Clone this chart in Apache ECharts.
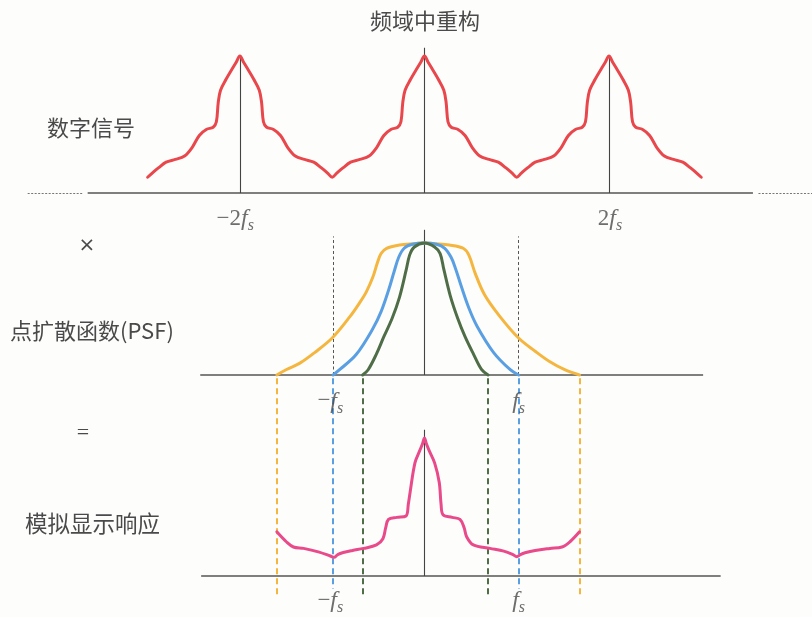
<!DOCTYPE html>
<html>
<head>
<meta charset="utf-8">
<script src="https://cdn.jsdelivr.net/npm/echarts@6/dist/echarts.min.js"></script>
<style>
  html, body { margin: 0; padding: 0; background: #fdfdfc; }
  #chart { width: 812px; height: 617px; }
</style>
</head>
<body>
<div id="chart"></div>
<script>
// Frequency axis in units of fs; amplitudes normalised to the peak height.

// Sampled (digital) signal spectrum: replicas centred on -2fs, 0, 2fs
const digitalSignal = [
  [-3.00,0.115],[-2.95,0.145],[-2.88,0.185],[-2.80,0.225],[-2.70,0.245],[-2.60,0.27],[-2.52,0.33],[-2.44,0.42],[-2.36,0.465],[-2.29,0.48],[-2.255,0.52],[-2.235,0.66],[-2.21,0.75],[-2.15,0.83],[-2.08,0.91],[-2.04,0.955],[-2.00,1.00],
  [-1.96,0.955],[-1.92,0.91],[-1.85,0.83],[-1.79,0.75],[-1.765,0.66],[-1.745,0.52],[-1.71,0.48],[-1.64,0.465],[-1.56,0.42],[-1.48,0.33],[-1.40,0.27],[-1.30,0.245],[-1.20,0.225],[-1.12,0.185],[-1.05,0.145],
  [-1.00,0.115],[-0.95,0.145],[-0.88,0.185],[-0.80,0.225],[-0.70,0.245],[-0.60,0.27],[-0.52,0.33],[-0.44,0.42],[-0.36,0.465],[-0.29,0.48],[-0.255,0.52],[-0.235,0.66],[-0.21,0.75],[-0.15,0.83],[-0.08,0.91],[-0.04,0.955],[0.00,1.00],
  [0.04,0.955],[0.08,0.91],[0.15,0.83],[0.21,0.75],[0.235,0.66],[0.255,0.52],[0.29,0.48],[0.36,0.465],[0.44,0.42],[0.52,0.33],[0.60,0.27],[0.70,0.245],[0.80,0.225],[0.88,0.185],[0.95,0.145],
  [1.00,0.115],[1.05,0.145],[1.12,0.185],[1.20,0.225],[1.30,0.245],[1.40,0.27],[1.48,0.33],[1.56,0.42],[1.64,0.465],[1.71,0.48],[1.745,0.52],[1.765,0.66],[1.79,0.75],[1.85,0.83],[1.92,0.91],[1.96,0.955],[2.00,1.00],
  [2.04,0.955],[2.08,0.91],[2.15,0.83],[2.21,0.75],[2.235,0.66],[2.255,0.52],[2.29,0.48],[2.36,0.465],[2.44,0.42],[2.52,0.33],[2.60,0.27],[2.70,0.245],[2.80,0.225],[2.88,0.185],[2.95,0.145],[3.00,0.115]
];

// Point spread functions (frequency response), wide / medium / narrow
const psfWide = [
  [-1.60,0],[-1.50,0.04],[-1.35,0.09],[-1.19,0.17],[-1.00,0.28],[-0.81,0.44],[-0.70,0.55],[-0.63,0.63],[-0.56,0.74],[-0.51,0.85],[-0.47,0.92],[-0.41,0.96],[-0.27,0.985],[-0.12,0.995],[0,1],
  [0.12,0.995],[0.27,0.985],[0.42,0.96],[0.48,0.91],[0.55,0.77],[0.65,0.61],[0.81,0.45],[1.02,0.28],[1.20,0.18],[1.36,0.10],[1.52,0.04],[1.68,0]
];
const psfMedium = [
  [-0.99,0],[-0.92,0.04],[-0.74,0.155],[-0.56,0.35],[-0.47,0.48],[-0.39,0.64],[-0.33,0.78],[-0.28,0.89],[-0.22,0.96],[-0.13,0.99],[0,1],
  [0.13,0.99],[0.22,0.96],[0.29,0.89],[0.34,0.80],[0.40,0.67],[0.48,0.51],[0.57,0.37],[0.75,0.17],[0.93,0.04],[1.02,0]
];
const psfNarrow = [
  [-0.67,0],[-0.61,0.04],[-0.52,0.16],[-0.44,0.29],[-0.35,0.43],[-0.27,0.59],[-0.20,0.79],[-0.16,0.91],[-0.11,0.97],[0,1],
  [0.11,0.97],[0.17,0.92],[0.21,0.80],[0.28,0.60],[0.36,0.43],[0.44,0.29],[0.53,0.16],[0.62,0.04],[0.69,0]
];

// Analogue display response
const displayResponse = [
  [-1.60,0.32],[-1.50,0.25],[-1.42,0.21],[-1.31,0.20],[-1.15,0.175],[-1.02,0.145],[-0.98,0.135],[-0.94,0.155],[-0.88,0.17],[-0.78,0.185],[-0.66,0.20],[-0.52,0.225],[-0.45,0.27],[-0.42,0.35],[-0.39,0.41],[-0.30,0.425],[-0.20,0.435],[-0.175,0.52],[-0.157,0.60],[-0.103,0.82],[-0.05,0.91],[-0.02,0.96],[0,1.0],
  [0.02,0.96],[0.05,0.91],[0.11,0.82],[0.16,0.68],[0.18,0.52],[0.20,0.445],[0.30,0.425],[0.385,0.41],[0.43,0.35],[0.457,0.285],[0.53,0.225],[0.71,0.20],[0.86,0.18],[0.96,0.155],[1.00,0.14],[1.04,0.155],[1.09,0.168],[1.20,0.185],[1.36,0.20],[1.49,0.21],[1.58,0.25],[1.68,0.32]
];

// Cut-off frequencies of each PSF
const cutWide = [-1.60, 1.68];
const cutMedium = [-0.99, 1.02];
const cutNarrow = [-0.67, 0.69];

// Sampling frequency markers
const sampleMarks = [-0.99, 1.02];

// Tick labels
const topTicks = [[-2.05, '−2'], [2.01, '2']];
const fsTicks = [[-1.02, '−'], [1.02, '']];

// Horizontal axis extents
const topAxisSpan = [-3.65, 3.56];
const topAxisDotted = [[-4.30, -3.70], [3.62, 4.20]];
const midAxisSpan = [-2.43, 3.02];
const bottomAxisSpan = [-2.42, 3.21];

// ---- layout ----
const X_MIN = -4.6, X_MAX = 4.2;
function panel(baseline, unit, ymin, ymax) {
  return { left: 0, right: 0, top: baseline - unit * ymax, height: unit * (ymax - ymin) };
}
const panels = [
  { grid: panel(193, 137, -0.3, 1.2), ymin: -0.3, ymax: 1.2 },
  { grid: panel(375, 132, -1.75, 1.1), ymin: -1.75, ymax: 1.1 },
  { grid: panel(576, 138, -0.25, 1.1), ymin: -0.25, ymax: 1.1 }
];

const AXIS = '#555';
const SERIF = '"Liberation Serif", "DejaVu Serif", serif';
const CJK = '"Noto Sans CJK SC", "Noto Sans", sans-serif';
const TXT = '#4a4a4a';

function seg(x1, y1, x2, y2) { return { coords: [[x1, y1], [x2, y2]] }; }
function segments(idx, data, style) {
  return {
    type: 'lines', coordinateSystem: 'cartesian2d', xAxisIndex: idx, yAxisIndex: idx,
    polyline: false, silent: true, z: 2,
    lineStyle: Object.assign({ opacity: 1 }, style), data
  };
}
function curve(idx, data, color, width) {
  return {
    type: 'line', xAxisIndex: idx, yAxisIndex: idx, data, showSymbol: false, symbol: 'none',
    smooth: 0.35, silent: true, z: 5,
    lineStyle: { color, width, cap: 'round', join: 'round' }
  };
}
const fsRich = {
  a: { fontFamily: SERIF, fontSize: 23, color: TXT, lineHeight: 30 },
  f: { fontFamily: SERIF, fontStyle: 'italic', fontSize: 24, color: TXT, lineHeight: 30 },
  s: { fontFamily: SERIF, fontStyle: 'italic', fontSize: 16, color: TXT, lineHeight: 30, verticalAlign: 'bottom', padding: [12, 0, 0, 0] }
};
function tickLabels(idx, ticks, yVal) {
  return {
    type: 'scatter', xAxisIndex: idx, yAxisIndex: idx, symbolSize: 0, silent: true, z: 10,
    data: ticks.map(t => ({
      value: [t[0], yVal],
      label: { formatter: '{a|' + t[1] + '}{f|f}{s|s}' }
    })),
    label: { show: true, position: 'inside', rich: fsRich }
  };
}

const option = {
  backgroundColor: '#fdfdfc',
  animation: false,
  grid: panels.map(p => p.grid),
  xAxis: panels.map((p, i) => ({ type: 'value', gridIndex: i, min: X_MIN, max: X_MAX, show: false })),
  yAxis: panels.map((p, i) => ({ type: 'value', gridIndex: i, min: p.ymin, max: p.ymax, show: false })),
  graphic: [
    { type: 'text', style: { text: '频域中重构', x: 425, y: 21, font: '22px ' + CJK, fill: TXT, textAlign: 'center', textVerticalAlign: 'middle' } },
    { type: 'text', style: { text: '数字信号', x: 47, y: 128, font: '22px ' + CJK, fill: TXT, textAlign: 'left', textVerticalAlign: 'middle' } },
    { type: 'text', style: { text: '×', x: 87, y: 246, font: '20px "DejaVu Sans", sans-serif', fill: TXT, textAlign: 'center', textVerticalAlign: 'middle' } },
    { type: 'text', style: { text: '点扩散函数(PSF)', x: 10, y: 331, font: '22px ' + CJK, fill: TXT, textAlign: 'left', textVerticalAlign: 'middle' } },
    { type: 'text', style: { text: '=', x: 83, y: 433, font: '22px ' + SERIF, fill: TXT, textAlign: 'center', textVerticalAlign: 'middle' } },
    { type: 'text', style: { text: '模拟显示响应', x: 25, y: 523, font: '22.5px ' + CJK, fill: TXT, textAlign: 'left', textVerticalAlign: 'middle' } }
  ],
  series: [
    // ---- top panel: digital signal ----
    segments(0, [seg(topAxisSpan[0], 0, topAxisSpan[1], 0)], { color: AXIS, width: 1.6 }),
    segments(0, topAxisDotted.map(d => seg(d[0], 0, d[1], 0)), { color: '#777', width: 1, type: [2, 1.5] }),
    segments(0, [seg(-2, 0, -2, 1), seg(2, 0, 2, 1), seg(0, 0, 0, 1.06)], { color: '#444', width: 1.1 }),
    curve(0, digitalSignal, '#e8474c', 3),
    tickLabels(0, topTicks, -0.19),

    // ---- middle panel: PSF ----
    segments(1, [seg(midAxisSpan[0], 0, midAxisSpan[1], 0)], { color: AXIS, width: 1.6 }),
    segments(1, [seg(0, 0, 0, 1.1)], { color: '#444', width: 1.1 }),
    segments(1, sampleMarks.map(u => seg(u, 0, u, 1.05)), { color: '#555', width: 1, type: [3, 2.5] }),
    segments(1, cutWide.map(u => seg(u, -0.025, u, -1.69)), { color: '#f4b63f', width: 2, type: [6, 4] }),
    segments(1, cutMedium.map(u => seg(u, -0.025, u, -1.62)), { color: '#5b9fe3', width: 2, type: [6, 4] }),
    segments(1, cutNarrow.map(u => seg(u, -0.025, u, -1.69)), { color: '#4f6e47', width: 2, type: [6, 4] }),
    curve(1, psfWide, '#f4b63f', 3),
    curve(1, psfMedium, '#5b9fe3', 3),
    curve(1, psfNarrow, '#4f6e47', 3),
    tickLabels(1, fsTicks, -0.2),

    // ---- bottom panel: analogue display response ----
    segments(2, [seg(bottomAxisSpan[0], 0, bottomAxisSpan[1], 0)], { color: AXIS, width: 1.6 }),
    segments(2, [seg(0, 0, 0, 1.06)], { color: '#444', width: 1.1 }),
    curve(2, displayResponse, '#e84a8a', 3),
    tickLabels(2, fsTicks, -0.18)
  ]
};

const chart = echarts.init(document.getElementById('chart'), null, { renderer: 'canvas' });
chart.setOption(option);
</script>
</body>
</html>
